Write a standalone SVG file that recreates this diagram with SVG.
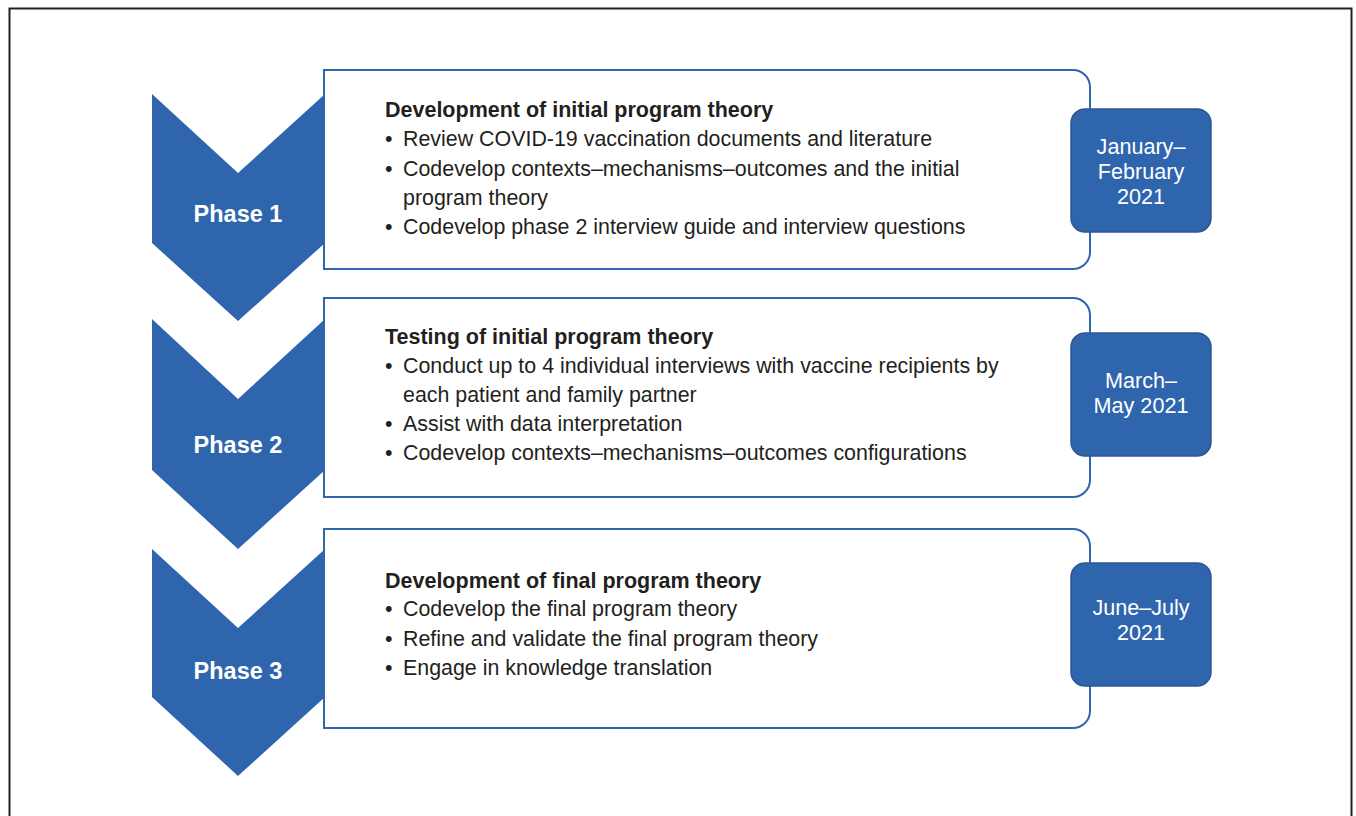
<svg xmlns="http://www.w3.org/2000/svg" width="1356" height="816" viewBox="0 0 1356 816">
<style>
.chev{fill:#2F65AD;}
.box{fill:#fff;stroke:#2F65AD;stroke-width:2;}
.date{fill:#2F65AD;stroke:#2A5896;stroke-width:1.5;}
.ph{font-family:"Liberation Sans",Arial,sans-serif;font-weight:bold;font-size:23.5px;fill:#fff;text-anchor:middle;}
.dt{font-family:"Liberation Sans",Arial,sans-serif;font-size:21.6px;fill:#fff;text-anchor:middle;}
.tt{font-family:"Liberation Sans",Arial,sans-serif;font-weight:bold;font-size:21.5px;fill:#231F20;}
.bl{font-family:"Liberation Sans",Arial,sans-serif;font-size:21.4px;fill:#231F20;}
</style>
<rect x="0" y="0" width="1356" height="816" fill="#fff"/>
<rect x="9.5" y="8.5" width="1342" height="820" fill="none" stroke="#222" stroke-width="2"/>
<g id="connectors"></g>
<g id="phase1">
<polygon class="chev" points="152,94 238,173 325,94 325,243 238,321 152,243"/>
<path class="box" d="M324,70 H1073 A17,17 0 0 1 1090,87 V252 A17,17 0 0 1 1073,269 H324 Z"/>
<text class="ph" x="238" y="222">Phase 1</text>
<text class="tt" x="385" y="117">Development of initial program theory</text>
<text class="bl" x="385" y="146">•</text><text class="bl" x="403" y="146">Review COVID-19 vaccination documents and literature</text>
<text class="bl" x="385" y="176">•</text><text class="bl" x="403" y="176">Codevelop contexts–mechanisms–outcomes and the initial</text>
<text class="bl" x="403" y="205">program theory</text>
<text class="bl" x="385" y="234">•</text><text class="bl" x="403" y="234">Codevelop phase 2 interview guide and interview questions</text>
</g>
<g id="date1">
<rect class="date" x="1071" y="109" width="140" height="123" rx="14"/>
<text class="dt" x="1141" y="154">January–</text>
<text class="dt" x="1141" y="179">February</text>
<text class="dt" x="1141" y="204">2021</text>
</g>
<g id="phase2">
<polygon class="chev" points="152,319 238,399 325,319 325,470 238,549 152,470"/>
<path class="box" d="M324,298 H1073 A17,17 0 0 1 1090,315 V480 A17,17 0 0 1 1073,497 H324 Z"/>
<text class="ph" x="238" y="453">Phase 2</text>
<text class="tt" x="385" y="344">Testing of initial program theory</text>
<text class="bl" x="385" y="373">•</text><text class="bl" x="403" y="373">Conduct up to 4 individual interviews with vaccine recipients by</text>
<text class="bl" x="403" y="402">each patient and family partner</text>
<text class="bl" x="385" y="431">•</text><text class="bl" x="403" y="431">Assist with data interpretation</text>
<text class="bl" x="385" y="460">•</text><text class="bl" x="403" y="460">Codevelop contexts–mechanisms–outcomes configurations</text>
</g>
<g id="date2">
<rect class="date" x="1071" y="333" width="140" height="123" rx="14"/>
<text class="dt" x="1141" y="388">March–</text>
<text class="dt" x="1141" y="413">May 2021</text>
</g>
<g id="phase3">
<polygon class="chev" points="152,549 238,628 325,549 325,697 238,776 152,697"/>
<path class="box" d="M324,529 H1073 A17,17 0 0 1 1090,546 V711 A17,17 0 0 1 1073,728 H324 Z"/>
<text class="ph" x="238" y="679">Phase 3</text>
<text class="tt" x="385" y="588">Development of final program theory</text>
<text class="bl" x="385" y="616">•</text><text class="bl" x="403" y="616">Codevelop the final program theory</text>
<text class="bl" x="385" y="646">•</text><text class="bl" x="403" y="646">Refine and validate the final program theory</text>
<text class="bl" x="385" y="675">•</text><text class="bl" x="403" y="675">Engage in knowledge translation</text>
</g>
<g id="date3">
<rect class="date" x="1071" y="563" width="140" height="123" rx="14"/>
<text class="dt" x="1141" y="615">June–July</text>
<text class="dt" x="1141" y="640">2021</text>
</g>
</svg>
